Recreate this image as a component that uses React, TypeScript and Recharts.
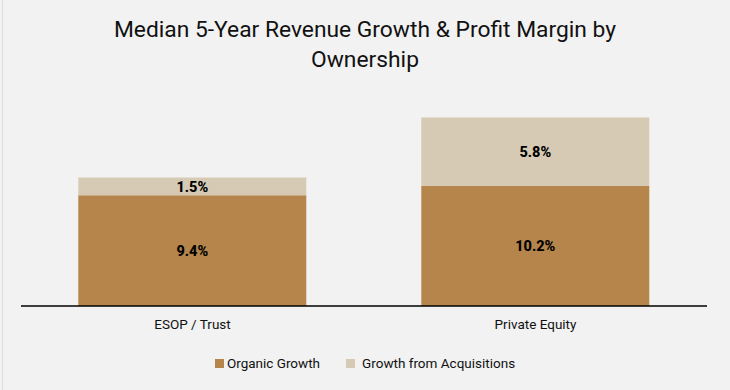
import React from "react";
import { BarChart, Bar, XAxis, YAxis, LabelList } from "recharts";

const categories = ["ESOP / Trust", "Private Equity"];
const organicGrowth = [9.4, 10.2];
const acquisitionGrowth = [1.5, 5.8];
const seriesNames = ["Organic Growth", "Growth from Acquisitions"];
const title = ["Median 5-Year Revenue Growth & Profit Margin by", "Ownership"];

const COLORS = ["#b5854b", "#d6cab5"];
const FONT = "Roboto, 'Noto Sans', sans-serif";

const data = categories.map((c, i) => ({
  name: c,
  organic: organicGrowth[i],
  acq: acquisitionGrowth[i],
}));

const fmt = (v: any) => `${Number(v).toFixed(1)}%`;

const LegendContent = () => (
  <div
    style={{
      position: "absolute",
      left: 0,
      top: 354,
      width: 730,
      display: "flex",
      justifyContent: "center",
      alignItems: "center",
      fontFamily: FONT,
      fontSize: 13.5,
      lineHeight: "18px",
      color: "#111",
    }}
  >
    {seriesNames.map((n, i) => (
      <div key={n} style={{ display: "flex", alignItems: "center", marginLeft: i === 0 ? 0 : 26 }}>
        <span
          style={{
            display: "inline-block",
            width: 9,
            height: 9,
            background: COLORS[i],
            marginRight: i === 0 ? 3 : 7,
          }}
        />
        <span>{n}</span>
      </div>
    ))}
  </div>
);

export default function App() {
  return (
    <div
      style={{
        position: "fixed",
        left: 0,
        top: 0,
        width: 730,
        height: 390,
        background: "#f2f2f2",
        overflow: "hidden",
      }}
    >
      <div
        style={{
          position: "absolute",
          left: 2,
          top: 0,
          width: 1,
          height: 390,
          background: "#dcdcdc",
        }}
      />
      <div
        style={{
          position: "absolute",
          left: 0,
          top: 15,
          width: 730,
          textAlign: "center",
          fontFamily: FONT,
          fontSize: 22.8,
          lineHeight: "30px",
          color: "#111",
        }}
      >
        {title.map((t) => (
          <div key={t}>{t}</div>
        ))}
      </div>
      <div style={{ position: "absolute", left: 0, top: 0 }}>
        <BarChart
          width={730}
          height={390}
          data={data}
          margin={{ top: 94, right: 23, bottom: 54, left: 21 }}
          barCategoryGap="16.7%"
        >
          <YAxis hide domain={[0, 18]} />
          <XAxis
            dataKey="name"
            height={30}
            tickLine={false}
            axisLine={{ stroke: "#000", strokeWidth: 1.5 }}
            tick={{ fill: "#111", fontSize: 13.5, fontFamily: FONT }}
            dy={5}
          />
          <Bar dataKey="organic" stackId="a" fill={COLORS[0]} isAnimationActive={false}>
            <LabelList
              dataKey="organic"
              position="center"
              formatter={fmt}
              style={{ fill: "#000", fontWeight: 800, fontSize: 14.5, fontFamily: FONT }}
            />
          </Bar>
          <Bar dataKey="acq" stackId="a" fill={COLORS[1]} isAnimationActive={false}>
            <LabelList
              dataKey="acq"
              position="center"
              formatter={fmt}
              style={{ fill: "#000", fontWeight: 800, fontSize: 14.5, fontFamily: FONT }}
            />
          </Bar>
        </BarChart>
      </div>
      <LegendContent />
    </div>
  );
}
